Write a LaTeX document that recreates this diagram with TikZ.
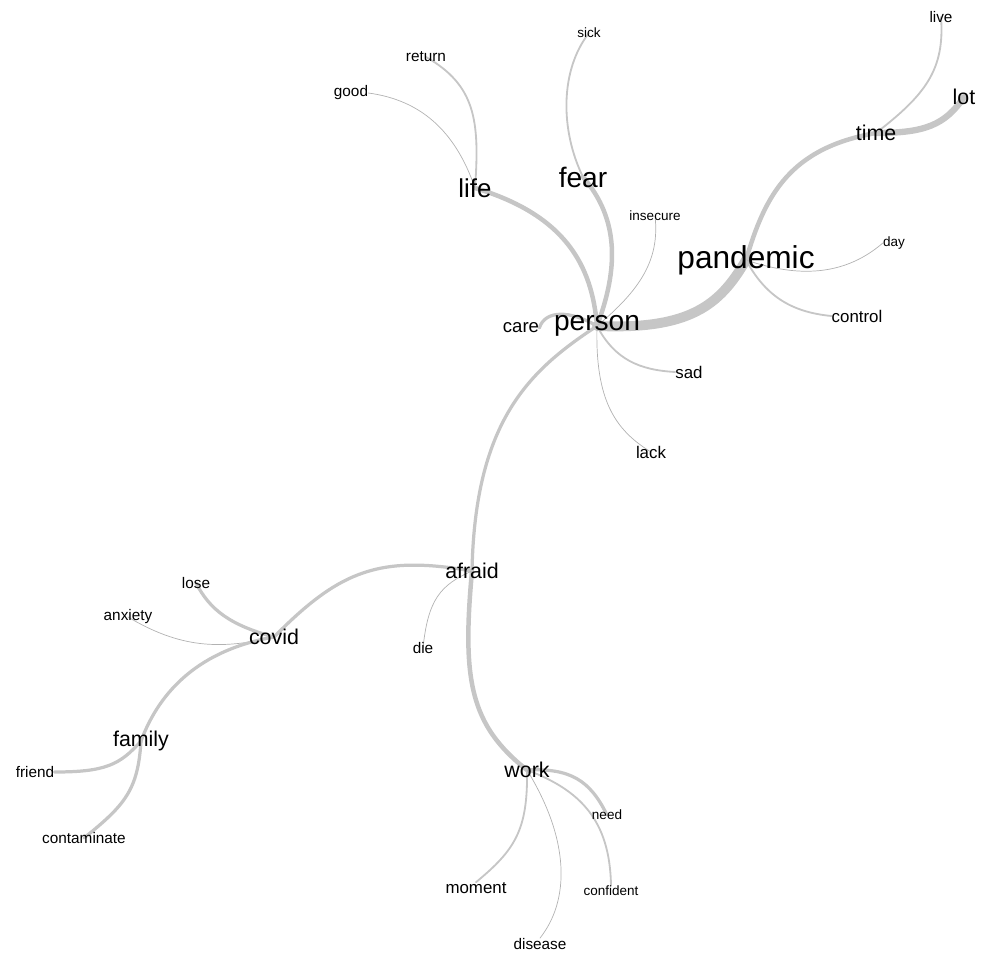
\documentclass[tikz,border=0pt]{standalone}
\usepackage{fontspec}
\setmainfont{Liberation Sans}
\usetikzlibrary{backgrounds}
\begin{document}
\begin{tikzpicture}[x=0.025cm,y=-0.025cm]
    \tikzstyle{word}=[inner sep=0pt, text=black]
    \tikzstyle{hub}=[word, font=\fontsize{22.5}{24}\selectfont]
    \tikzstyle{core}=[word, font=\fontsize{20}{22}\selectfont]
    \tikzstyle{major}=[word, font=\fontsize{18.4}{20}\selectfont]
    \tikzstyle{branch}=[word, font=\fontsize{15.2}{17}\selectfont]
    \tikzstyle{near}=[word, font=\fontsize{13.2}{15}\selectfont]
    \tikzstyle{leaf}=[word, font=\fontsize{12}{14}\selectfont]
    \tikzstyle{small}=[word, font=\fontsize{10.9}{12}\selectfont]
    \tikzstyle{tiny}=[word, font=\fontsize{9.6}{11}\selectfont]
    \tikzstyle{link}=[draw=gray!45, line cap=round]
    \tikzstyle{faint}=[link, draw=gray!60, line width=0.5pt]
    \tikzstyle{weak}=[link, line width=1.3pt]
    \tikzstyle{plain}=[link, line width=2.3pt]
    \tikzstyle{firm}=[link, line width=3.2pt]
    \tikzstyle{strong}=[link, line width=4.5pt]
    \tikzstyle{heavy}=[link, line width=7pt]
    \useasboundingbox (0,0) rectangle (988,953);

    % upper part
    \node[hub] (pandemic) at (746,260) {pandemic};
    \node[core] (person) at (597,326) {person};
    \node[near] (care) at (521,328) {care};
    \node[core] (fear) at (583,177) {fear};
    \node[major] (life) at (475,188) {life};
    \node[tiny] (sick) at (589,33) {sick};
    \node[small] (return) at (426,57) {return};
    \node[small] (good) at (351,93) {good};
    \node[tiny] (insecure) at (655,216) {insecure};
    \node[branch] (time) at (876,133) {time};
    \node[branch] (lot) at (964,97) {lot};
    \node[small] (live) at (941,17) {live};
    \node[tiny] (day) at (894,243) {day};
    \node[leaf] (control) at (857,316) {control};
    \node[leaf] (sad) at (689,372) {sad};
    \node[leaf] (lack) at (651,452) {lack};

    % lower part
    \node[branch] (afraid) at (472,571) {afraid};
    \node[branch] (covid) at (274,637) {covid};
    \node[small] (lose) at (196,583) {lose};
    \node[small] (anxiety) at (128,617) {anxiety};
    \node[small] (die) at (423,648) {die};
    \node[branch] (family) at (141,741) {family};
    \node[small] (friend) at (35,772) {friend};
    \node[small] (contaminate) at (84,838) {contaminate};
    \node[branch] (work) at (527,770) {work};
    \node[tiny] (need) at (607,815) {need};
    \node[tiny] (confident) at (611,891) {confident};
    \node[leaf] (moment) at (476,888) {moment};
    \node[small] (disease) at (540,944) {disease};

    \begin{pgfonlayer}{background}
    \draw[heavy] (person.center) .. controls (690,330) and (720,305) .. (pandemic.center);
    \draw[firm] (pandemic.center) .. controls (765,195) and (790,148) .. (time.center);
    \draw[strong] (time.center) .. controls (925,133) and (945,125) .. (lot.center);
    \draw[weak] (time.center) .. controls (925,95) and (945,70) .. (live.center);
    \draw[faint] (pandemic.center) .. controls (790,275) and (840,280) .. (day.west);
    \draw[weak] (pandemic.center) .. controls (765,295) and (790,312) .. (control.west);
    \draw[firm] (person.center) .. controls (592,265) and (565,215) .. (life.center);
    \draw[firm] (person.center) .. controls (618,270) and (620,220) .. (fear.center);
    \draw[weak] (fear.center) .. controls (560,130) and (560,70) .. (sick.center);
    \draw[weak] (life.center) .. controls (480,120) and (475,85) .. (return.center);
    \draw[faint] (life.center) .. controls (455,130) and (420,100) .. (good.east);
    \draw[faint] (person.center) .. controls (640,290) and (660,260) .. (insecure.center);
    \draw[plain] (person.center) .. controls (570,310) and (545,310) .. (care.east);
    \draw[weak] (person.center) .. controls (615,360) and (640,370) .. (sad.west);
    \draw[faint] (person.center) .. controls (595,400) and (615,430) .. (lack.center);
    \draw[plain] (person.center) .. controls (530,370) and (475,420) .. (afraid.center);
    \draw[firm] (afraid.center) .. controls (462,680) and (470,725) .. (work.center);
    \draw[plain] (afraid.center) .. controls (380,555) and (340,570) .. (covid.center);
    \draw[faint] (afraid.center) .. controls (440,585) and (428,600) .. (die.center);
    \draw[plain] (covid.center) .. controls (230,625) and (210,610) .. (lose.center);
    \draw[faint] (covid.center) .. controls (220,650) and (180,648) .. (anxiety.center);
    \draw[plain] (covid.center) .. controls (200,650) and (160,690) .. (family.center);
    \draw[plain] (family.center) .. controls (120,765) and (105,772) .. (friend.east);
    \draw[plain] (family.center) .. controls (138,790) and (125,805) .. (contaminate.center);
    \draw[plain] (work.center) .. controls (570,768) and (590,780) .. (need.center);
    \draw[weak] (work.center) .. controls (580,790) and (610,820) .. (confident.north);
    \draw[weak] (work.center) .. controls (528,830) and (515,850) .. (moment.north);
    \draw[faint] (work.center) .. controls (570,840) and (570,900) .. (disease.north);
    \end{pgfonlayer}
\end{tikzpicture}
\end{document}
